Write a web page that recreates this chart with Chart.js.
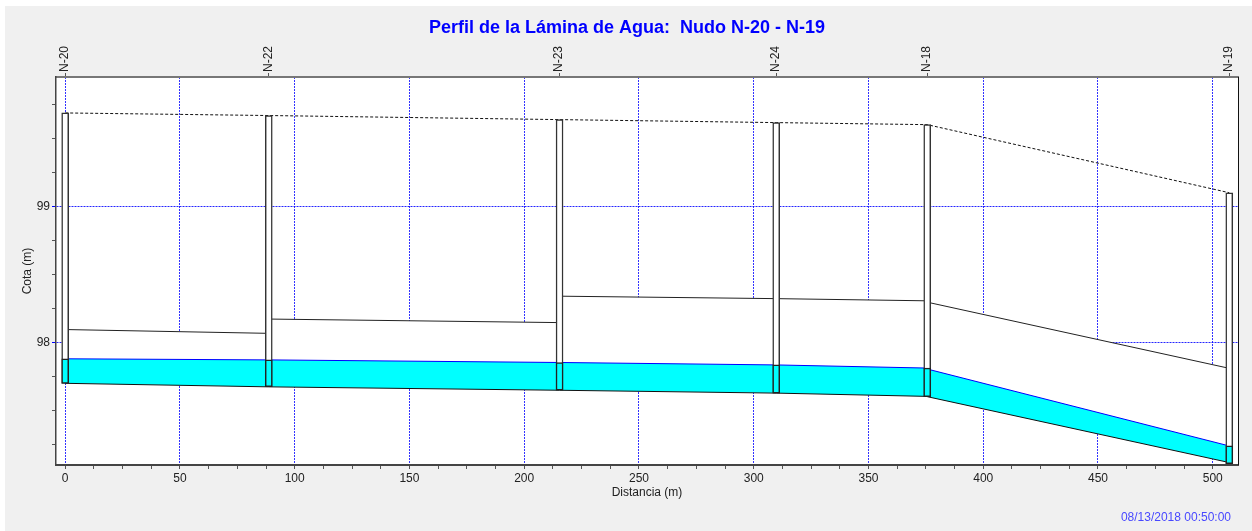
<!DOCTYPE html>
<html>
<head>
<meta charset="utf-8">
<title>Perfil de la Lámina de Agua</title>
<script src="https://cdn.jsdelivr.net/npm/chart.js@4.4.1/dist/chart.umd.min.js"></script>
<style>
  html, body { margin: 0; padding: 0; background: #fff; }
  #wrap { width: 1252px; height: 531px; position: relative; }
</style>
</head>
<body>
<div id="wrap"><canvas id="chart"></canvas></div>
<script>
// nodes along the profile (distance in m, levels in m)
const nodes = ['N-20', 'N-22', 'N-23', 'N-24', 'N-18', 'N-19'];
const nodeDist = [0, 88.7, 215.4, 309.8, 375.6, 507.2];
const groundLevel = [99.686, 99.667, 99.637, 99.615, 99.600, 99.100];
const manholeBottom = [97.700, 97.676, 97.649, 97.628, 97.602, 97.110];
const manholeWater = [97.880, 97.872, 97.853, 97.835, 97.812, 97.240];

// pipes: N-20>N-22, N-22>N-23, N-23>N-24, N-24>N-18, N-18>N-19
const invertStart = [97.700, 97.674, 97.649, 97.628, 97.602];
const invertEnd = [97.674, 97.649, 97.628, 97.604, 97.118];
const crownStart = [98.095, 98.172, 98.340, 98.322, 98.296];
const crownEnd = [98.067, 98.146, 98.322, 98.306, 97.810];
const waterStart = [97.880, 97.872, 97.853, 97.835, 97.805];
const waterEnd = [97.872, 97.853, 97.835, 97.812, 97.240];

// axis labels
const xLabels = [0, 50, 100, 150, 200, 250, 300, 350, 400, 450, 500];
const yLabels = [98, 99];
const xMinorStep = 12.5;
const yMinorStep = 0.25;

const FONT = "'Liberation Sans', Arial, sans-serif";
const GRID_BLUE = 'rgba(0,0,255,0.8)';

function pipeLine(startArr, endArr) {
  let pts = [];
  for (let i = 0; i < startArr.length; i++) {
    pts.push({ x: nodeDist[i], y: startArr[i] });
    pts.push({ x: nodeDist[i + 1], y: endArr[i] });
  }
  return pts;
}

function stepTicks(from, to, step) {
  let out = [];
  for (let v = from; v <= to + 1e-9; v += step) out.push({ value: Math.round(v * 1000) / 1000 });
  return out;
}

const decor = {
  id: 'decor',
  beforeDraw(chart) {
    const { ctx, chartArea: a, width, height } = chart;
    ctx.save();
    ctx.fillStyle = '#ffffff';
    ctx.fillRect(0, 0, width, height);
    ctx.fillStyle = '#f0f0f0';
    ctx.fillRect(5, 6, width - 5, height - 6);
    ctx.fillStyle = '#ffffff';
    ctx.fillRect(a.left, a.top, a.right - a.left, a.bottom - a.top);
    ctx.restore();
  },
  afterDraw(chart) {
    const { ctx, chartArea: a } = chart;
    ctx.save();
    ctx.strokeStyle = '#111';
    ctx.lineWidth = 1;
    ctx.beginPath();
    ctx.moveTo(a.right + 0.5, a.top);
    ctx.lineTo(a.right + 0.5, a.bottom);
    ctx.stroke();

    ctx.fillStyle = '#0000ff';
    ctx.font = 'bold 18px ' + FONT;
    ctx.textAlign = 'center';
    ctx.textBaseline = 'middle';
    ctx.fillText('Perfil de la Lámina de Agua:  Nudo N-20 - N-19', 627, 28);

    ctx.fillStyle = '#4848ff';
    ctx.font = '12px ' + FONT;
    ctx.textAlign = 'right';
    ctx.fillText('08/13/2018 00:50:00', 1231, 518);
    ctx.restore();
  }
};

let ctx = document.getElementById('chart').getContext('2d');

let chart = new Chart(ctx, {
  type: 'line',
  data: {
    datasets: [
      {
        label: 'Clave',
        data: pipeLine(crownStart, crownEnd),
        borderColor: '#222',
        borderWidth: 1,
        backgroundColor: '#ffffff',
        fill: 2,
        pointRadius: 0,
        order: 6
      },
      {
        label: 'Lámina',
        data: pipeLine(waterStart, waterEnd),
        borderColor: '#0000ff',
        borderWidth: 1,
        backgroundColor: '#00ffff',
        fill: 2,
        pointRadius: 0,
        order: 5
      },
      {
        label: 'Solera',
        data: pipeLine(invertStart, invertEnd),
        borderColor: '#111',
        borderWidth: 1,
        fill: false,
        pointRadius: 0,
        order: 4
      },
      {
        label: 'Terreno',
        data: nodeDist.map((d, i) => ({ x: d, y: groundLevel[i] })),
        borderColor: '#111',
        borderWidth: 1,
        borderDash: [3, 2],
        fill: false,
        pointRadius: 0,
        order: 3
      },
      {
        type: 'bar',
        label: 'Pozos',
        data: nodeDist.map((d, i) => ({ x: d, y: [manholeBottom[i], groundLevel[i]] })),
        backgroundColor: '#ffffff',
        borderColor: '#333',
        borderWidth: 1.5,
        borderSkipped: false,
        barThickness: 7,
        grouped: false,
        order: 2
      },
      {
        type: 'bar',
        label: 'Agua pozo',
        data: nodeDist.map((d, i) => ({ x: d, y: [manholeBottom[i], manholeWater[i]] })),
        backgroundColor: '#00ffff',
        borderColor: '#222',
        borderWidth: 1.5,
        borderSkipped: false,
        barThickness: 7,
        grouped: false,
        order: 1
      }
    ]
  },
  options: {
    responsive: true,
    maintainAspectRatio: false,
    animation: false,
    events: [],
    layout: { padding: { top: 0, left: 0, right: 14, bottom: 0 } },
    plugins: {
      legend: { display: false },
      tooltip: { enabled: false },
      title: { display: false }
    },
    scales: {
      x: {
        type: 'linear',
        position: 'bottom',
        min: -4,
        max: 511,
        offset: false,
        afterBuildTicks: (s) => { s.ticks = stepTicks(0, 500, xMinorStep); },
        afterFit: (s) => { s.height = 66; },
        ticks: {
          autoSkip: false,
          maxRotation: 0,
          padding: 2,
          color: '#222',
          font: { family: FONT, size: 12 },
          callback: (v) => xLabels.includes(v) ? String(v) : ''
        },
        grid: {
          offset: false,
          color: (c) => (c.tick && xLabels.includes(c.tick.value)) ? GRID_BLUE : 'transparent',
          tickColor: '#555',
          tickLength: 4,
          tickBorderDash: []
        },
        border: { display: true, color: '#444', width: 2, dash: [2, 1] },
        title: {
          display: true,
          text: 'Distancia (m)',
          color: '#222',
          font: { family: FONT, size: 12 },
          padding: { top: 0, bottom: 31 }
        }
      },
      x2: {
        type: 'linear',
        position: 'top',
        min: -4,
        max: 511,
        offset: false,
        afterBuildTicks: (s) => { s.ticks = nodeDist.map(v => ({ value: v })); },
        afterFit: (s) => { s.height = 77; },
        ticks: {
          autoSkip: false,
          minRotation: 90,
          maxRotation: 90,
          padding: 1,
          labelOffset: 14,
          color: '#222',
          font: { family: FONT, size: 12 },
          callback: (v, i) => nodes[i]
        },
        grid: { drawOnChartArea: false, tickColor: '#555', tickLength: 4 },
        border: { display: true, color: '#777', width: 2 }
      },
      y: {
        type: 'linear',
        min: 97.1,
        max: 99.95,
        beginAtZero: false,
        afterBuildTicks: (s) => { s.ticks = stepTicks(97.25, 99.75, yMinorStep); },
        afterFit: (s) => { s.width = 56; },
        ticks: {
          autoSkip: false,
          padding: 2,
          color: '#222',
          font: { family: FONT, size: 12 },
          callback: (v) => yLabels.includes(v) ? String(v) : ''
        },
        grid: {
          color: (c) => (c.tick && yLabels.includes(c.tick.value)) ? 'rgba(0,0,255,0.85)' : 'transparent',
          tickColor: (c) => (c.tick && yLabels.includes(c.tick.value)) ? '#0000ff' : '#555',
          tickLength: 4,
          tickBorderDash: []
        },
        border: { display: true, color: '#444', width: 1.5, dash: [2, 1] },
        title: {
          display: true,
          text: 'Cota (m)',
          color: '#222',
          font: { family: FONT, size: 12 },
          padding: { top: 20, bottom: 0 }
        }
      }
    }
  },
  plugins: [decor]
});
</script>
</body>
</html>
